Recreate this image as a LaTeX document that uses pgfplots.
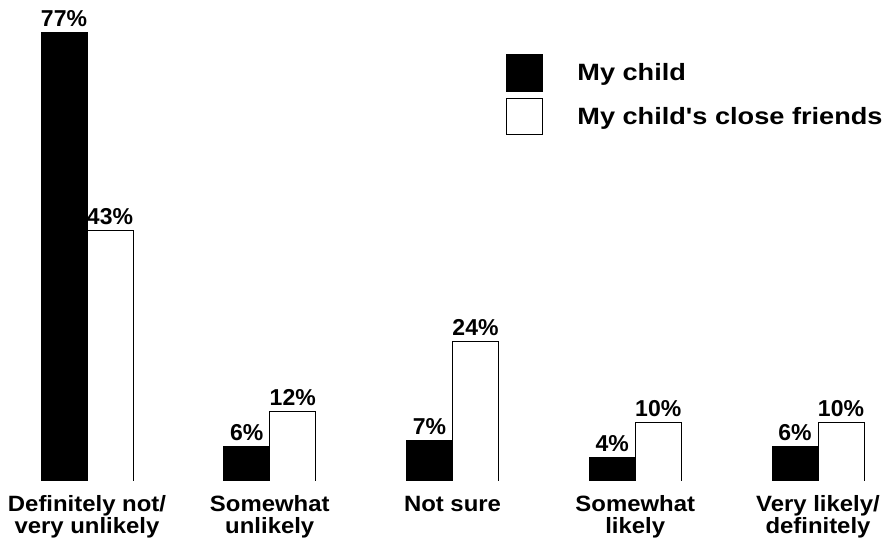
\documentclass[border=0pt]{standalone}
\usepackage{fontspec}
\setmainfont{Liberation Sans}
\newfontfamily\legfont[FakeStretch=1.15]{Liberation Sans}
\newfontfamily\tickfont[FakeStretch=1.08]{Liberation Sans}
\usepackage{pgfplots}
\pgfplotsset{compat=1.18}
\begin{document}
\begin{tikzpicture}
\path[use as bounding box] (0pt,-46.5pt) rectangle (667.5pt,360.75pt);
\begin{axis}[
  scale only axis,
  width=667.5pt, height=360.75pt,
  at={(0pt,0pt)}, anchor=south west,
  ybar=0pt, bar width=34.5pt,
  xmin=-0.4761, xmax=4.394,
  ymin=0, ymax=82.49,
  axis line style={draw=none},
  ytick=\empty,
  xtick={0,1,2,3,4},
  xticklabels={Definitely not/\\very unlikely, Somewhat\\unlikely, Not sure, Somewhat\\likely, Very likely/\\definitely},
  major tick length=0pt,
  xticklabel style={font=\tickfont\bfseries\fontsize{16.6}{16.4}\selectfont, align=center, anchor=north, inner sep=0pt, yshift=-11pt},
  /pgf/number format/assume math mode=true,
  nodes near coords={\pgfmathprintnumber{\pgfplotspointmeta}\%},
  nodes near coords style={font=\bfseries\fontsize{17.25}{17.25}\selectfont, anchor=base, inner sep=0pt, yshift=4.5pt},
  legend cell align=left,
  legend style={draw=none, fill=none, at={(rel axis cs:0.5685,0.8877)}, anchor=north west,
    inner sep=0pt, outer sep=0pt, row sep=4.75pt,
    nodes={inner sep=0pt, anchor=base west, font=\legfont\bfseries\fontsize{17.7}{17.7}\selectfont},
    /tikz/every odd column/.append style={column sep=26pt}},
]
\addplot[fill=black, draw=black, line width=0.6pt,
  legend image code/.code={\draw[fill=black,draw=black] (0pt,-8pt) rectangle (27pt,19.5pt);}]
  coordinates {(0,77) (1,6) (2,7) (3,4) (4,6)};
\addlegendentry{My child}
\addplot[fill=white, draw=black, line width=0.6pt,
  legend image code/.code={\draw[fill=white,draw=black,line width=0.6pt] (0pt,-8pt) rectangle (27pt,19.5pt);}]
  coordinates {(0,43) (1,12) (2,24) (3,10) (4,10)};
\addlegendentry{My child's close friends}
\end{axis}
\end{tikzpicture}
\end{document}
